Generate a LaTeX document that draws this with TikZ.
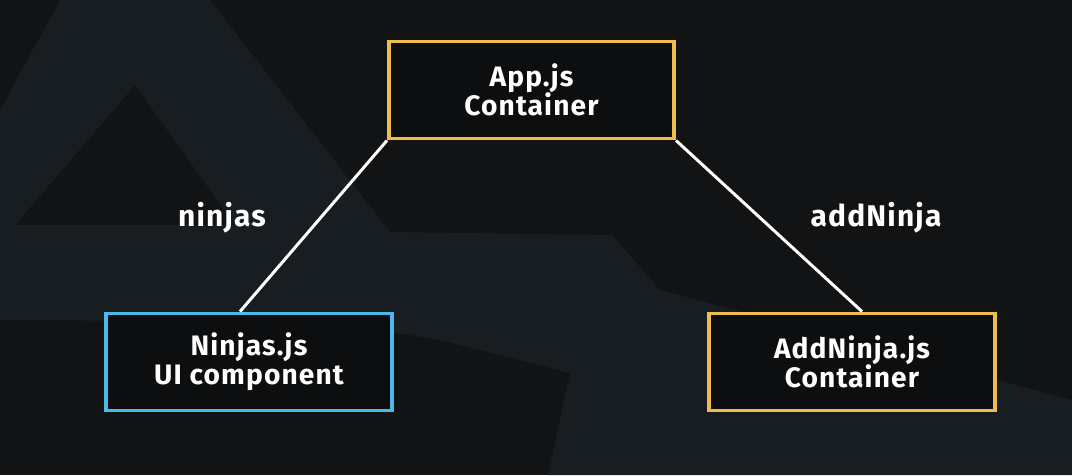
\documentclass[tikz,border=0pt]{standalone}
\usepackage{fontspec}
\setmainfont{Fira Sans}[LetterSpace=4]
\usepackage{xcolor}
\usepackage{tikz}
\usetikzlibrary{positioning}
\definecolor{bgdark}{HTML}{111315}
\definecolor{bgband}{HTML}{181D21}
\definecolor{boxfill}{HTML}{0D0E0F}
\definecolor{contyellow}{HTML}{F0BC4F}
\definecolor{uiblue}{HTML}{4DB9E8}
\tikzset{
    compbox/.style={rectangle, draw, line width=1.1pt, fill=boxfill, text=white, align=center, font=\bfseries\fontsize{8}{8.3}\selectfont, minimum width=2.85cm, minimum height=0.97cm},
    container/.style={compbox, draw=contyellow},
    uicomp/.style={compbox, draw=uiblue},
    link/.style={draw=white, line width=0.85pt},
    labelstyle/.style={text=white, font=\bfseries\fontsize{8.5}{9}\selectfont},
}
\begin{document}
\begin{tikzpicture}[x=0.01cm, y=-0.01cm]
            % background with the faint logo band
            \fill[bgdark] (0,0) rectangle (1072,475);
            \fill[bgband, even odd rule] (0,320) -- (0,110) -- (60,0) -- (210,0) -- (390,232) -- (612,235) -- (660,290)
                -- (1072,400) -- (1072,475) -- (548,475) -- (570,373) -- (440,340) -- (330,322) -- cycle
                (135,85) -- (15,225) -- (235,225) -- cycle;
            \useasboundingbox (0,0) rectangle (1072,475);
            % components
            \node[container] (app) at (531.5,90) {App.js\\Container};
            \node[uicomp] (ninjas) at (249,362) {Ninjas.js\\UI component};
            \node[container] (addninja) at (852,362) {AddNinja.js\\Container};
            \draw[link] (app.south west) -- ([xshift=-0.09cm]ninjas.north);
            \draw[link] (app.south east) -- ([xshift=0.1cm]addninja.north);
            % props
            \node[labelstyle] (propninjas) at (222,218) {ninjas};
            \node[labelstyle] (propadd) at (876,218) {addNinja};
        \end{tikzpicture}
\end{document}
